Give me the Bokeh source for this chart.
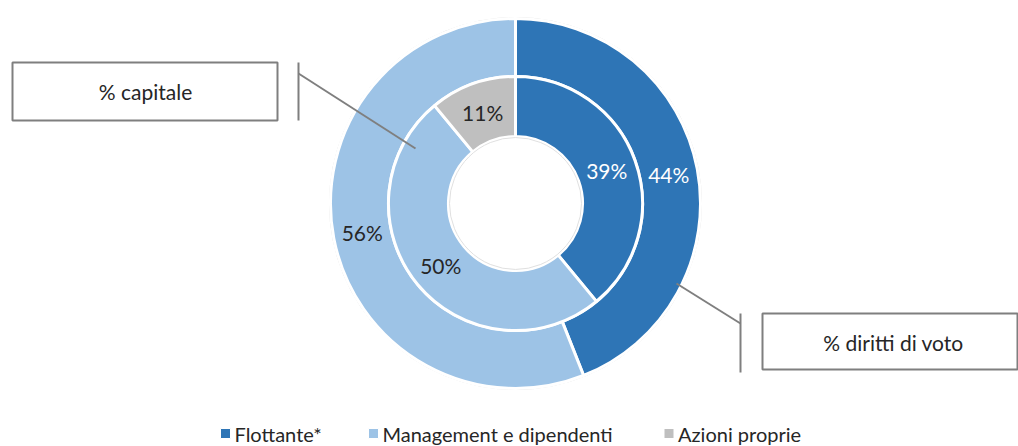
import numpy as np
from bokeh.plotting import figure
from bokeh.models import Range1d
from bokeh.embed import file_html
from bokeh.resources import INLINE
from bokeh.core.properties import value

# ---- data ----
categories = ["Flottante*", "Management e dipendenti", "Azioni proprie"]
colors = ["#2E75B6", "#9DC3E6", "#BFBFBF"]
label_colors = ["white", "#262626", "#262626"]
voting_rights = [44, 56, 0]   # outer ring: % diritti di voto
capital = [39, 50, 11]        # inner ring: % capitale
ring_titles = ["% capitale", "% diritti di voto"]

FONT = value("Lato")
FS = "21px"

W, H = 1018, 446


def X(x):
    return x


def Y(y):
    return H - y


p = figure(width=W, height=H, x_range=Range1d(0, W), y_range=Range1d(0, H),
           output_backend="svg", toolbar_location=None, min_border=0,
           x_axis_location=None, y_axis_location=None)
p.grid.visible = False
p.outline_line_color = None
p.background_fill_color = "white"

cx, cy = X(515), Y(203)


def ring(vals, r_in, r_out):
    vals = np.array(vals, dtype=float)
    frac = vals / vals.sum()
    cum = np.concatenate([[0], np.cumsum(frac)])
    starts = np.pi / 2 - cum[:-1] * 2 * np.pi
    ends = np.pi / 2 - cum[1:] * 2 * np.pi
    keep = vals > 0
    p.annular_wedge(x=cx, y=cy, inner_radius=r_in, outer_radius=r_out,
                    start_angle=starts[keep], end_angle=ends[keep],
                    direction="clock",
                    fill_color=[c for c, k in zip(colors, keep) if k],
                    line_color="white", line_width=3)
    mids = (starts + ends) / 2
    rm = (r_in + r_out) / 2
    lx = cx + rm * np.cos(mids)
    ly = cy + rm * np.sin(mids)
    txt = ["%d%%" % v for v in vals]
    p.text(x=lx[keep], y=ly[keep], text=[t for t, k in zip(txt, keep) if k],
           text_align="center", text_baseline="middle",
           text_font=FONT, text_font_size=FS,
           text_color=[c for c, k in zip(label_colors, keep) if k])


# faint outer outlines
p.circle(x=cx, y=cy, radius=186, fill_color=None, line_color="#D9D9D9", line_width=1)
ring(voting_rights, 127, 185)
ring(capital, 67, 127)
p.circle(x=cx, y=cy, radius=66, fill_color=None, line_color="#E0E0E0", line_width=1)

# callout boxes
p.quad(left=[X(12), X(762)], right=[X(277), X(1017)],
       top=[Y(62), Y(313)], bottom=[Y(120), Y(369)],
       fill_color="white", line_color="#7F7F7F", line_width=2)
p.text(x=[X(145), X(893)], y=[Y(91), Y(342)], text=ring_titles,
       text_align="center", text_baseline="middle",
       text_font=FONT, text_font_size=FS, text_color="#262626")

# leader lines
p.segment(x0=[X(298), X(298), X(740), X(676)],
          y0=[Y(62), Y(73), Y(313), Y(283)],
          x1=[X(298), X(415), X(740), X(740)],
          y1=[Y(120), Y(148), Y(372), Y(323)],
          line_color="#7F7F7F", line_width=2)

# legend
leg_sq_x = [X(225), X(373), X(668.5)]
leg_y = Y(433)
p.rect(x=leg_sq_x, y=[leg_y] * 3, width=10, height=10,
       fill_color=colors, line_color="white", line_width=1)
p.text(x=[x + 9 for x in leg_sq_x], y=[leg_y] * 3, text=categories,
       text_align="left", text_baseline="middle",
       text_font=FONT, text_font_size="20px", text_color="#262626")

open("out.html", "w").write(file_html(p, INLINE))
